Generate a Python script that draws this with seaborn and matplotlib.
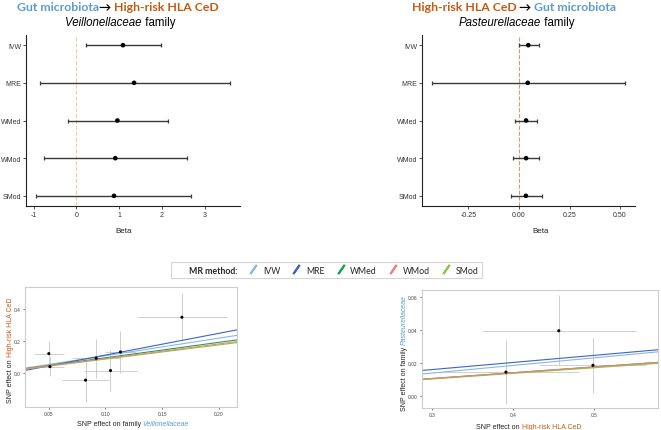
import numpy as np
import pandas as pd
import matplotlib
matplotlib.use('Agg')
from matplotlib import pyplot as plt
from matplotlib.lines import Line2D
import seaborn as sns

# MR estimates (forest plots)
methods = ['IVW', 'MRE', 'WMed', 'WMod', 'SMod']
fwd_beta = [1.09, 1.35, 0.96, 0.91, 0.88]
fwd_lo = [0.22, -0.85, -0.20, -0.76, -0.95]
fwd_hi = [1.99, 3.59, 2.14, 2.60, 2.69]
rev_beta = [0.046, 0.043, 0.035, 0.035, 0.034]
rev_lo = [0.002, -0.432, -0.020, -0.031, -0.040]
rev_hi = [0.099, 0.525, 0.088, 0.099, 0.112]
# MR-Egger intercepts
fwd_int = [0, -0.022, 0, 0, 0]
rev_int = [0, 0.003, 0, 0, 0]

# SNP effects (scatter plots)
fwd_x = [0.050, 0.051, 0.0824, 0.0918, 0.1044, 0.1132, 0.1674]
fwd_y = [0.122, 0.041, -0.043, 0.093, 0.0165, 0.132, 0.348]
fwd_xe = [0.0135, 0.012, 0.021, 0.021, 0.0235, 0.0135, 0.040]
fwd_ye = [0.078, 0.060, 0.139, 0.120, 0.129, 0.129, 0.150]
rev_x = [0.3915, 0.4567, 0.4988]
rev_y = [0.0144, 0.0394, 0.0185]
rev_xe = [0.090, 0.095, 0.066]
rev_ye = [0.0195, 0.0215, 0.0170]

colors = {'IVW': '#8FB4E3', 'MRE': '#3A66C4', 'WMed': '#1AA54A', 'WMod': '#F08080', 'SMod': '#8CCB3C'}
BLUE = '#5B9BD5'
ORANGE = '#C55A11'

sns.set_style('ticks')
plt.rcParams['font.family'] = ['Liberation Sans', 'DejaVu Sans']

W, H = 661, 431
fig = plt.figure(figsize=(W / 100, H / 100), dpi=100)


def box(x0, y0, x1, y1):
    return [x0 / W, 1 - y1 / H, (x1 - x0) / W, (y1 - y0) / H]


def rich(x, y, parts, size, rot=0, weight='normal', family=None):
    # pieces of differently styled text, centred on x (or y when rotated)
    r = fig.canvas.get_renderer()
    ts = []
    for s, c, st in parts:
        kw = dict(color=c, style=st, fontsize=size, fontweight=weight, rotation=rot,
                  rotation_mode='anchor', ha='left', va='baseline')
        if family:
            kw['family'] = family
        ts.append(fig.text(0, 0, s, **kw))
    if rot == 0:
        lens = [t.get_window_extent(r).width for t in ts]
        cur = x - sum(lens) / 2
        for t, l in zip(ts, lens):
            t.set_position((cur / W, 1 - y / H))
            cur += l
    else:
        lens = [t.get_window_extent(r).height for t in ts]
        cur = y + sum(lens) / 2
        for t, l in zip(ts, lens):
            t.set_position((x / W, 1 - cur / H))
            cur -= l


def forest(ax, beta, lo, hi, xlim, ticks, labels, vcol):
    df = pd.DataFrame({'method': methods, 'beta': beta, 'lo': lo, 'hi': hi})
    df['pos'] = np.arange(len(df))
    ax.axvline(0, color=vcol, ls='--', lw=0.8, zorder=0)
    ax.errorbar(df['beta'], df['pos'], xerr=[df['beta'] - df['lo'], df['hi'] - df['beta']],
                fmt='none', ecolor='#3A3A3A', elinewidth=1.0, capsize=1.6, capthick=0.9)
    sns.scatterplot(data=df, x='beta', y='pos', ax=ax, color='black', s=11, edgecolor='none', zorder=3)
    ax.set_yticks(df['pos'])
    ax.set_yticklabels(df['method'])
    ax.set_ylim(4.27, -0.27)
    ax.set_xlim(xlim)
    ax.set_xticks(ticks)
    ax.set_xticklabels(labels)
    ax.set_xlabel('')
    ax.set_ylabel('')
    ax.tick_params(labelsize=5, length=2, width=0.6, pad=1.5, colors='#333333')
    for s in ['left', 'bottom']:
        ax.spines[s].set_linewidth(0.8)
        ax.spines[s].set_color('#222222')
    sns.despine(ax=ax)


def mr_scatter(ax, x, y, xe, ye, beta, ints, xlim, ylim, xticks, yticks, order):
    df = pd.DataFrame({'x': x, 'y': y, 'xe': xe, 'ye': ye})
    ax.errorbar(df['x'], df['y'], xerr=df['xe'], yerr=df['ye'], fmt='none',
                ecolor='#C8C8C8', elinewidth=0.6, zorder=1)
    sns.scatterplot(data=df, x='x', y='y', ax=ax, color='black', s=5, edgecolor='none', zorder=4)
    for i in order:
        ax.axline((0, ints[i]), slope=beta[i], color=colors[methods[i]], lw=0.8, zorder=2)
    ax.set_xlim(xlim)
    ax.set_ylim(ylim)
    ax.set_xticks(xticks)
    ax.set_yticks(yticks)
    ax.set_xlabel('')
    ax.set_ylabel('')
    ax.tick_params(labelsize=3.5, length=1.5, width=0.5, pad=1.5, colors='#444444')
    for s in ax.spines.values():
        s.set_visible(True)
        s.set_color('#CCCCCC')
        s.set_linewidth(0.8)


ax1 = fig.add_axes(box(26, 36, 240, 207))
forest(ax1, fwd_beta, fwd_lo, fwd_hi, (-1.18, 3.83), [-1, 0, 1, 2, 3], ['-1', '0', '1', '2', '3'], '#F5C9A6')

ax2 = fig.add_axes(box(422, 36, 635, 207))
forest(ax2, rev_beta, rev_lo, rev_hi, (-0.48, 0.574), [-0.25, 0, 0.25, 0.5],
       ['-0.25', '0.00', '0.25', '0.50'], '#E39563')

ax3 = fig.add_axes(box(25, 288, 237, 408))
mr_scatter(ax3, fwd_x, fwd_y, fwd_xe, fwd_ye, fwd_beta, fwd_int, (0.029, 0.216), (-0.21, 0.536),
           [0.05, 0.10, 0.15, 0.20], [0.0, 0.2, 0.4], [0, 1, 2, 4, 3])
ax3.set_xticklabels(['0.05', '0.10', '0.15', '0.20'])

ax4 = fig.add_axes(box(422, 291, 658, 409))
mr_scatter(ax4, rev_x, rev_y, rev_xe, rev_ye, rev_beta, rev_int, (0.288, 0.579), (-0.0073, 0.064),
           [0.3, 0.4, 0.5], [0.0, 0.02, 0.04, 0.06], [0, 2, 4, 3, 1])
ax4.set_yticklabels(['0.00', '0.02', '0.04', '0.06'])

# titles
tf = ['Lato', 'DejaVu Sans']
rich(118, 11, [('Gut microbiota', BLUE, 'normal'), ('\u2192 ', 'black', 'normal'),
               ('High-risk HLA CeD', ORANGE, 'normal')], 8.8, weight='bold', family=tf)
rich(120, 26, [('Veillonellaceae', 'black', 'italic'), (' family', 'black', 'normal')], 8.3)
rich(514, 11, [('High-risk HLA CeD ', ORANGE, 'normal'), ('\u2192 ', 'black', 'normal'),
               ('Gut microbiota', BLUE, 'normal')], 8.8, weight='bold', family=tf)
rich(517, 26, [('Pasteurellaceae', 'black', 'italic'), (' family', 'black', 'normal')], 8.3)

rich(124, 233, [('Beta', '#222222', 'normal')], 5.8)
rich(541, 233, [('Beta', '#222222', 'normal')], 5.8)

# scatter axis labels
rich(133, 426, [('SNP effect on family ', '#222222', 'normal'), ('Veillonellaceae', BLUE, 'italic')], 5)
rich(12, 350, [('SNP effect on ', '#222222', 'normal'), ('High-risk HLA CeD', ORANGE, 'normal')], 5, rot=90)
rich(529, 429, [('SNP effect on ', '#222222', 'normal'), ('High-risk HLA CeD', ORANGE, 'normal')], 5)
rich(406, 353, [('SNP effect on family ', '#222222', 'normal'), ('Pasteurellaceae', BLUE, 'italic')], 5, rot=90)

# legend
handles = [Line2D([], [], ls='none')]
handles += [Line2D([], [], ls='none', marker=(2, 2, -35), markersize=8, markeredgewidth=1.4,
                   color=colors[m]) for m in methods]
leg = fig.legend(handles, ['MR method:'] + methods, loc='center', bbox_to_anchor=(326.5 / W, 1 - 271 / H),
                 ncol=6, handlelength=1.0, handletextpad=0.6, columnspacing=1.35,
                 borderpad=0.45, frameon=True, fancybox=False, prop={'family': tf, 'size': 6.3})
leg.get_frame().set_edgecolor('#CCCCCC')
leg.get_frame().set_linewidth(0.8)
leg.get_texts()[0].set_fontweight('bold')

fig.savefig('out.png', dpi=100)
